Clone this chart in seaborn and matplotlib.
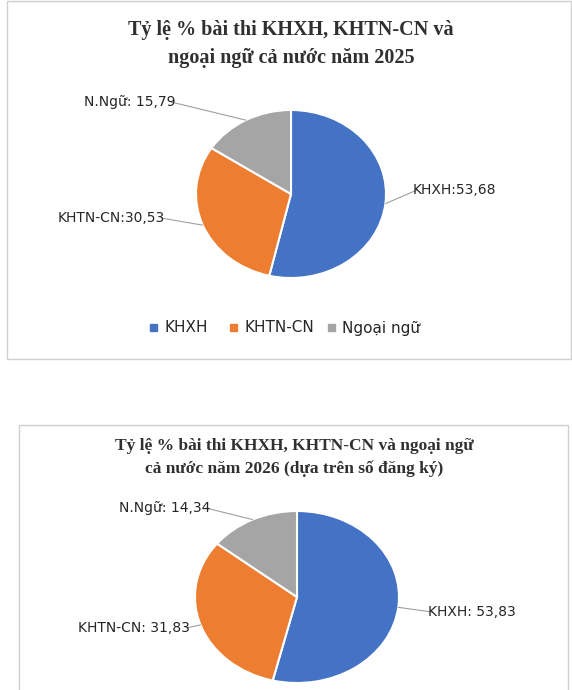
import numpy as np
import matplotlib
matplotlib.use("Agg")
import matplotlib.pyplot as plt
import seaborn as sns
from matplotlib.patches import Rectangle

sns.set_theme(style="white")
plt.rcParams['font.family'] = ['DejaVu Sans']

categories = ["KHXH", "KHTN-CN", "Ngoại ngữ"]
short_labels = ["KHXH", "KHTN-CN", "N.Ngữ"]
values_2025 = [53.68, 30.53, 15.79]
values_2026 = [53.83, 31.83, 14.34]
colors = ["#4472C4", "#ED7D31", "#A5A5A5"]

W, H = 572, 690
fig = plt.figure(figsize=(W/100, H/100), dpi=100)
ov = fig.add_axes([0, 0, 1, 1], zorder=5)
ov.set_xlim(0, W); ov.set_ylim(H, 0); ov.axis("off")
ov.patch.set_alpha(0)

def fmt(v):
    return f"{v:.2f}".replace(".", ",")

ov.add_patch(Rectangle((7, 1), 564, 358, fill=False, ec="#d0d0d0", lw=1))
ov.add_patch(Rectangle((19, 425), 549, 270, fill=False, ec="#d0d0d0", lw=1))

def pie(cx, cy, rx, ry, vals, label_pos, fmts):
    ax = fig.add_axes([(cx-rx)/W, 1-(cy+ry)/H, 2*rx/W, 2*ry/H])
    wedges, _ = ax.pie(vals, colors=colors, startangle=90, counterclock=False,
                       wedgeprops=dict(edgecolor="white", linewidth=1.5), radius=1)
    ax.set_aspect("auto"); ax.set_xlim(-1, 1); ax.set_ylim(-1, 1); ax.axis("off")
    for w, (tx, ty, ha), lab, v, f in zip(wedges, label_pos, short_labels, vals, fmts):
        ang = np.deg2rad((w.theta1 + w.theta2) / 2)
        px, py = cx + rx*np.cos(ang), cy - ry*np.sin(ang)
        ox = tx + (-4 if ha == "right" else 4)
        ov.plot([px, ox], [py, ty], color="#a0a0a0", lw=0.8)
        ov.text(tx, ty, f.format(lab, fmt(v)), ha=ha, va="center", fontsize=10, color="#262626")

tk = dict(ha="center", va="center", fontweight="bold", family="Liberation Serif", color="#303030")
ov.text(291, 30, "Tỷ lệ % bài thi KHXH, KHTN-CN và", fontsize=14.5, **tk)
ov.text(291, 58, "ngoại ngữ cả nước năm 2025", fontsize=14.5, **tk)
pie(291, 194, 95, 84, values_2025,
    [(413, 190, "left"), (165, 218, "right"), (175, 102, "right")],
    ["{}:{}", "{}:{}", "{}: {}"])

lx = [150, 230, 328]
for x, c, n in zip(lx, colors, categories):
    ov.add_patch(Rectangle((x, 324), 7, 7, color=c))
    ov.text(x + 14, 328, n, va="center", fontsize=11, color="#262626")

ov.text(294, 446, "Tỷ lệ % bài thi KHXH, KHTN-CN và ngoại ngữ", fontsize=12.5, **tk)
ov.text(294, 469, "cả nước năm 2026 (dựa trên số đăng ký)", fontsize=12.5, **tk)
pie(297, 597, 102, 86, values_2026,
    [(428, 612, "left"), (190, 628, "right"), (210, 508, "right")],
    ["{}: {}", "{}: {}", "{}: {}"])

fig.savefig("out.png", dpi=100)
